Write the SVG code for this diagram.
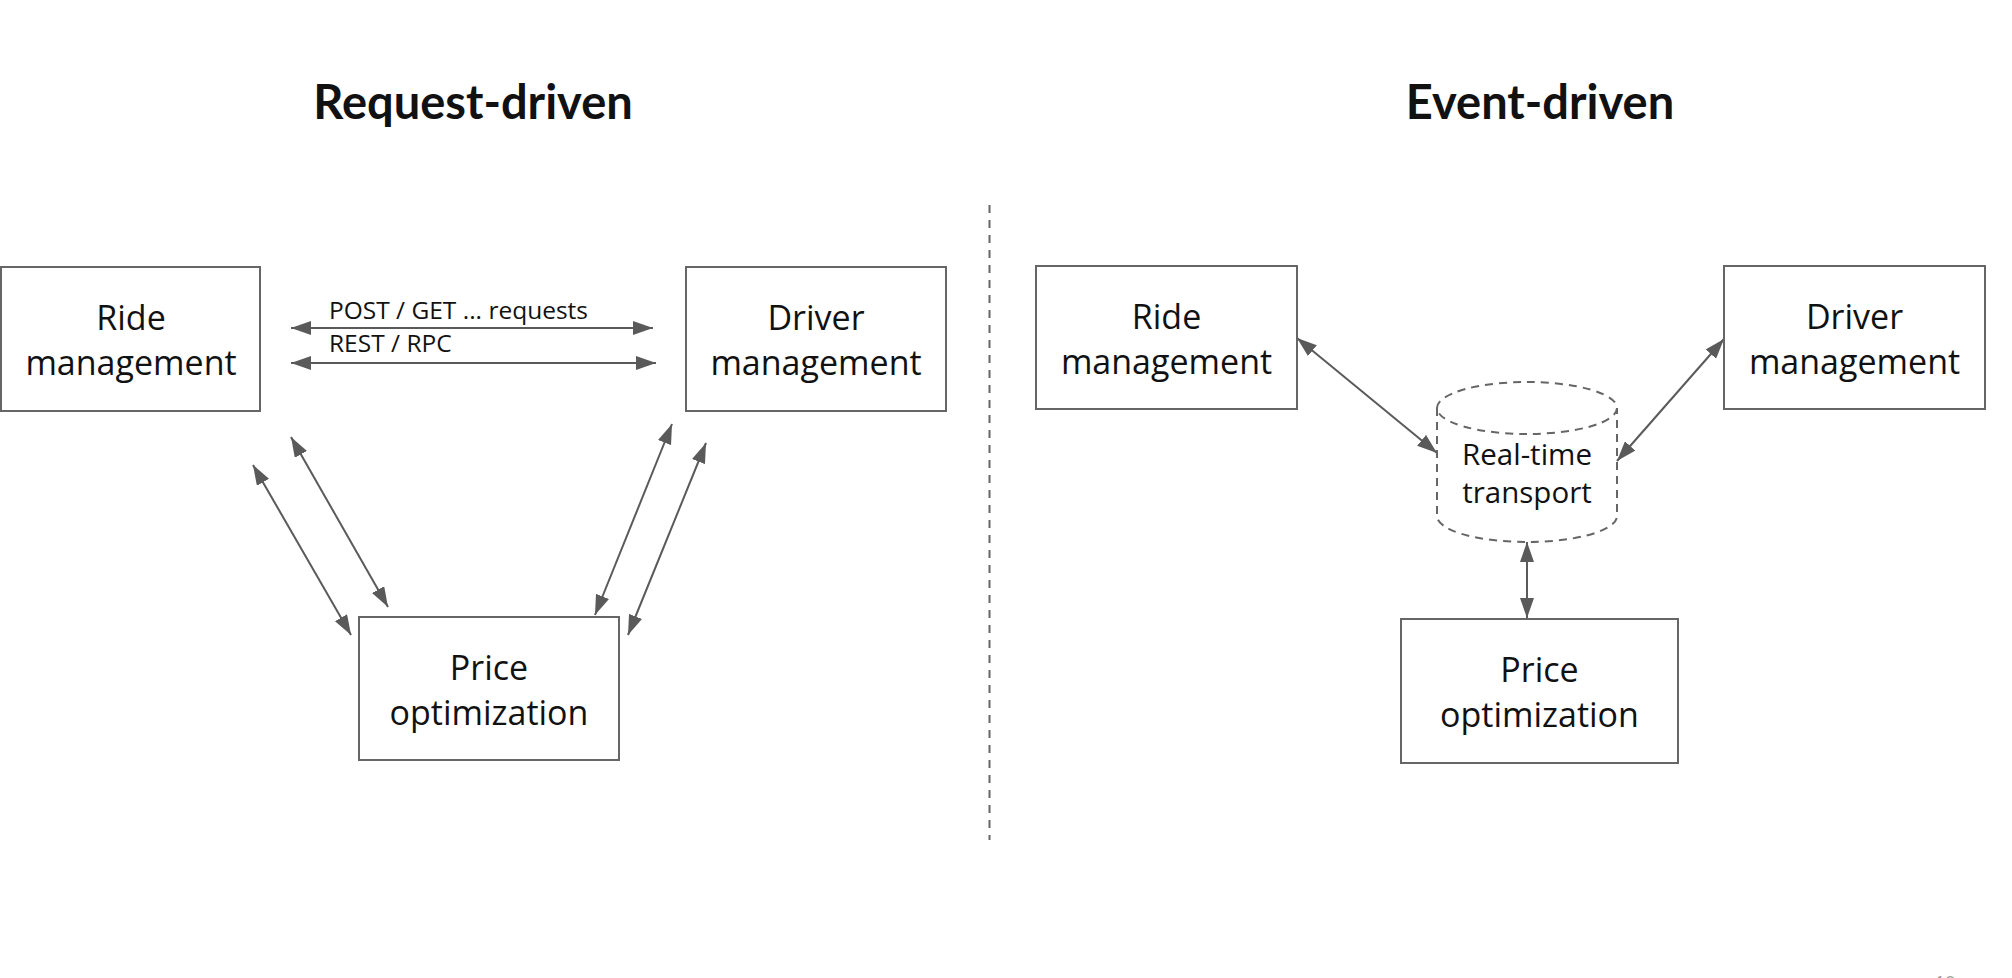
<svg xmlns="http://www.w3.org/2000/svg" width="2012" height="978" viewBox="0 0 2012 978">
<style>
.box{fill:#fff;stroke:#666;stroke-width:2}
.t{font-family:"Open Sans","Noto Sans",sans-serif;font-size:34px;fill:#111;text-anchor:middle}
.ct{font-family:"Open Sans","Noto Sans",sans-serif;font-size:29.5px;fill:#111;text-anchor:middle}
.lbl{font-family:"Open Sans","Noto Sans",sans-serif;font-size:24.5px;fill:#111}
.title{font-family:"Lato","Open Sans",sans-serif;font-size:47px;font-weight:bold;fill:#111;text-anchor:middle}
.arr{stroke:#5a5a5a;stroke-width:2;fill:none;marker-start:url(#ah);marker-end:url(#ah)}
.dash{fill:none;stroke:#666;stroke-width:2;stroke-dasharray:8 6}
</style>
<defs>
<marker id="ah" markerUnits="userSpaceOnUse" markerWidth="20" markerHeight="14" refX="20" refY="7" orient="auto-start-reverse">
<path d="M0,0 L20,7 L0,14 z" fill="#5a5a5a"/>
</marker>
</defs>
<rect width="2012" height="978" fill="#fff"/>
<g id="titles">
<text class="title" x="473" y="119">Request-driven</text>
<text class="title" x="1540" y="119">Event-driven</text>
</g>
<g id="divider">
<line x1="989.5" y1="205" x2="989.5" y2="840" stroke="#666" stroke-width="2" stroke-dasharray="8 7"/>
</g>
<g id="connectors">
<line class="arr" x1="291" y1="328" x2="653" y2="328"/>
<line class="arr" x1="291" y1="363" x2="656" y2="363"/>
<line class="arr" x1="291" y1="437" x2="388" y2="607"/>
<line class="arr" x1="253" y1="465" x2="351" y2="635"/>
<line class="arr" x1="672" y1="424" x2="595" y2="615"/>
<line class="arr" x1="706" y1="443" x2="628" y2="635"/>
<line class="arr" x1="1297" y1="338" x2="1437" y2="453"/>
<line class="arr" x1="1724" y1="339" x2="1617" y2="461"/>
<line class="arr" x1="1527" y1="542" x2="1527" y2="618"/>
<text class="lbl" x="329" y="319">POST / GET ... requests</text>
<text class="lbl" x="329" y="352">REST / RPC</text>
</g>
<g id="ride-req">
<rect class="box" x="1" y="267" width="259" height="144"/>
<text class="t" x="131" y="330">Ride</text>
<text class="t" x="131" y="375">management</text>
</g>
<g id="driver-req">
<rect class="box" x="686" y="267" width="260" height="144"/>
<text class="t" x="816" y="330">Driver</text>
<text class="t" x="816" y="375">management</text>
</g>
<g id="price-req">
<rect class="box" x="359" y="617" width="260" height="143"/>
<text class="t" x="489" y="680">Price</text>
<text class="t" x="489" y="725">optimization</text>
</g>
<g id="ride-evt">
<rect class="box" x="1036" y="266" width="261" height="143"/>
<text class="t" x="1166.5" y="329">Ride</text>
<text class="t" x="1166.5" y="374">management</text>
</g>
<g id="driver-evt">
<rect class="box" x="1724" y="266" width="261" height="143"/>
<text class="t" x="1854.5" y="329">Driver</text>
<text class="t" x="1854.5" y="374">management</text>
</g>
<g id="price-evt">
<rect class="box" x="1401" y="619" width="277" height="144"/>
<text class="t" x="1539.5" y="682">Price</text>
<text class="t" x="1539.5" y="727">optimization</text>
</g>
<g id="transport">
<path class="dash" d="M1437,408 L1437,516 A90,26 0 0 0 1617,516 L1617,408"/>
<ellipse class="dash" cx="1527" cy="408" rx="90" ry="26"/>
<text class="ct" x="1527" y="465">Real-time</text>
<text class="ct" x="1527" y="503">transport</text>
</g>
<text x="1945" y="989" font-family="Lato, sans-serif" font-size="18" fill="#999" text-anchor="middle">10</text>
</svg>
